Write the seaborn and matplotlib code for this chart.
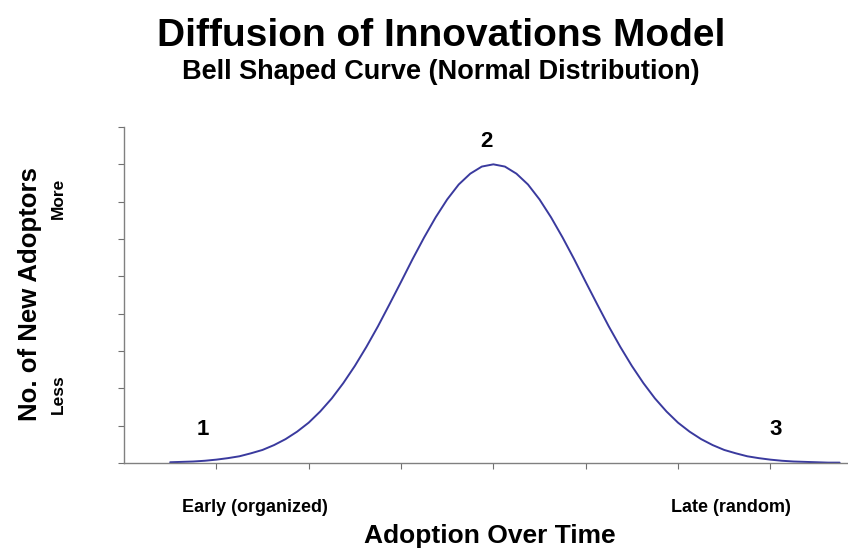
import pandas as pd
import matplotlib.pyplot as plt
import seaborn as sns

# Adoption over time (tick units) and number of new adopters
time_points = [0.5, 0.625, 0.75, 0.875, 1.0, 1.125, 1.25, 1.375, 1.5, 1.625,
               1.75, 1.875, 2.0, 2.125, 2.25, 2.375, 2.5, 2.625, 2.75, 2.875,
               3.0, 3.125, 3.25, 3.375, 3.5, 3.625, 3.75, 3.875, 4.0, 4.125,
               4.25, 4.375, 4.5, 4.625, 4.75, 4.875, 5.0, 5.125, 5.25, 5.375,
               5.5, 5.625, 5.75, 5.875, 6.0, 6.125, 6.25, 6.375, 6.5, 6.625,
               6.75, 6.875, 7.0, 7.125, 7.25, 7.375, 7.5, 7.625, 7.75]
new_adopters = [0.02, 0.03, 0.04, 0.06, 0.09, 0.13, 0.18, 0.26, 0.35, 0.48,
                0.64, 0.84, 1.08, 1.38, 1.73, 2.14, 2.60, 3.11, 3.66, 4.25,
                4.85, 5.46, 6.04, 6.58, 7.06, 7.46, 7.75, 7.94, 8.00, 7.94,
                7.75, 7.46, 7.06, 6.58, 6.04, 5.46, 4.85, 4.25, 3.66, 3.11,
                2.60, 2.14, 1.73, 1.38, 1.08, 0.84, 0.64, 0.48, 0.35, 0.26,
                0.18, 0.13, 0.09, 0.06, 0.04, 0.03, 0.02, 0.01, 0.01]

stage_labels = ['1', '2', '3']
stage_x = [0.85, 3.93, 7.06]
stage_y = [0.9, 8.6, 0.9]

df = pd.DataFrame({'time': time_points, 'adopters': new_adopters})

sns.set_style('white')
plt.rcParams['font.family'] = ['Liberation Sans', 'DejaVu Sans']
plt.rcParams['text.color'] = 'black'

fig = plt.figure(figsize=(8.48, 5.51), dpi=100)
ax = fig.add_axes([124 / 848, 1 - 463 / 551, 723 / 848, 336 / 551])

sns.lineplot(data=df, x='time', y='adopters', color='#3a3a9e', linewidth=1.4, ax=ax)

ax.set_xlim(0, 7.83)
ax.set_ylim(0, 9)
ax.set_xticks(range(1, 8))
ax.set_yticks(range(0, 10))
ax.tick_params(bottom=True, left=True, direction='out', length=4, width=0.8,
               color='#707070', labelleft=False, labelbottom=False)
for side in ['top', 'right']:
    ax.spines[side].set_visible(False)
for side in ['left', 'bottom']:
    ax.spines[side].set_color('#808080')
    ax.spines[side].set_linewidth(1.0)
ax.set_xlabel('')
ax.set_ylabel('')

for lab, sx, sy in zip(stage_labels, stage_x, stage_y):
    ax.text(sx, sy, lab, fontsize=16, fontweight='bold', ha='center', va='center',
            color='black')

# titles and axis annotations
fig.text(441 / 848, 1 - 36 / 551, 'Diffusion of Innovations Model',
         fontsize=28, fontweight='bold', ha='center', va='center')
fig.text(441 / 848, 1 - 72 / 551, 'Bell Shaped Curve (Normal Distribution)',
         fontsize=19.5, fontweight='bold', ha='center', va='center')
fig.text(30 / 848, 1 - 294 / 551, 'No. of New Adoptors', rotation=90,
         fontsize=18.5, fontweight='bold', ha='center', va='center')
fig.text(58 / 848, 1 - 198 / 551, 'More', rotation=90,
         fontsize=12.5, fontweight='bold', ha='center', va='center')
fig.text(58 / 848, 1 - 394 / 551, 'Less', rotation=90,
         fontsize=12.5, fontweight='bold', ha='center', va='center')
fig.text(255 / 848, 1 - 508 / 551, 'Early (organized)',
         fontsize=13, fontweight='bold', ha='center', va='center')
fig.text(731 / 848, 1 - 508 / 551, 'Late (random)',
         fontsize=13, fontweight='bold', ha='center', va='center')
fig.text(490 / 848, 1 - 536 / 551, 'Adoption Over Time',
         fontsize=19, fontweight='bold', ha='center', va='center')

plt.savefig('out.png', dpi=100)
